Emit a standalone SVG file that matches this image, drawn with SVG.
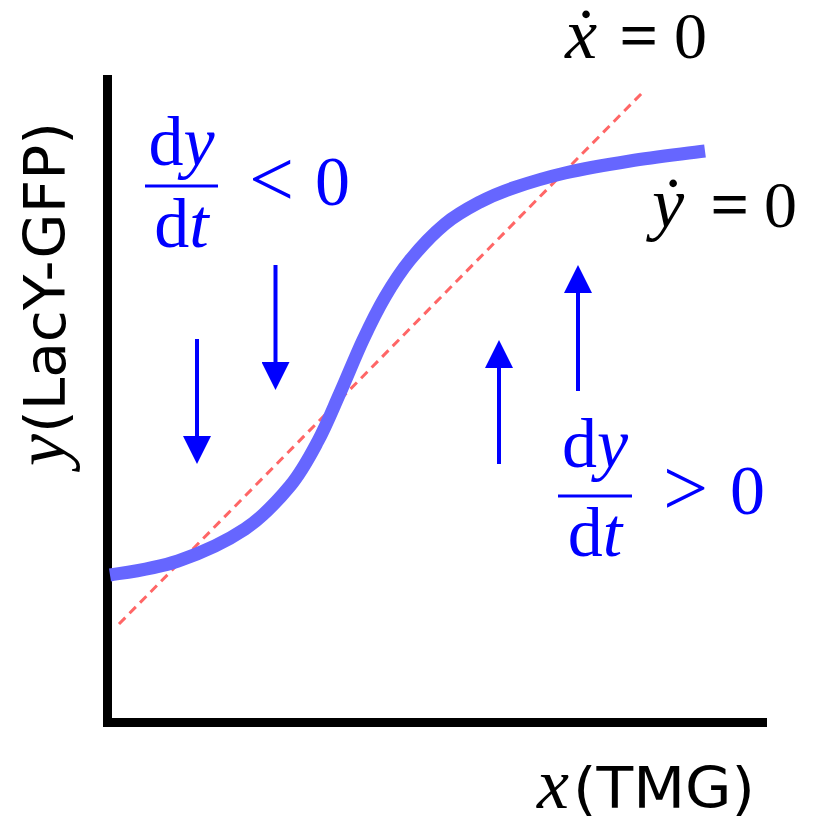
<svg xmlns="http://www.w3.org/2000/svg" width="816" height="817" viewBox="0 0 816 817">
<style>
.axis{stroke:#000;stroke-width:9;fill:none}
.curve{stroke:#6666ff;stroke-width:13;fill:none;stroke-linecap:butt}
.null{stroke:#ff6666;stroke-width:3;fill:none;stroke-dasharray:9 6}
.arr{stroke:#0000ff;stroke-width:4;fill:none;marker-end:url(#ah)}
.bar{stroke:#0000ff;stroke-width:3}
.m{font-family:"Liberation Serif","DejaVu Serif",serif;font-size:66px}
.f{font-family:"Liberation Serif","DejaVu Serif",serif;font-size:70px}
.rel{font-family:"Liberation Serif","DejaVu Serif",serif;font-size:80px}
.eq{stroke:#000;stroke-width:1.2}
.mi{font-family:"Liberation Serif","DejaVu Serif",serif;font-style:italic;font-size:72px}
.bl{fill:#0000ff}
.k{fill:#000}
.sans{font-family:"DejaVu Sans","Open Sans",sans-serif;font-size:57px;fill:#000}
</style>
<defs>
<marker id="ah" viewBox="0 0 28 28" refX="0" refY="14" markerWidth="28" markerHeight="28" markerUnits="userSpaceOnUse" orient="auto">
<path d="M0,0 L28,14 L0,28 z" fill="#0000ff"/>
</marker>
</defs>
<rect width="816" height="817" fill="#fff"/>
<g id="axes">
<line class="axis" x1="107.5" y1="75" x2="107.5" y2="727"/>
<line class="axis" x1="103" y1="722.5" x2="767" y2="722.5"/>
</g>
<g id="x-nullcline">
<line class="null" x1="119" y1="624" x2="642" y2="93"/>
</g>
<g id="y-nullcline">
<path class="curve" d="M110,575 C132.7,571.5 155.5,568.7 178,561 C200.5,553.3 226.3,541.5 245,529 C263.7,516.5 277.8,500.7 290,486 C302.2,471.3 309.7,456.5 318,441 C326.3,425.5 332.5,409.8 340,393 C347.5,376.2 355.5,356 363,340 C370.5,324 377.2,310.3 385,297 C392.8,283.7 400,272.2 410,260 C420,247.8 433.3,233.7 445,224 C456.7,214.3 468.7,208 480,202 C491.3,196 498.8,192.8 513,188 C527.2,183.2 545.5,177.5 565,173 C584.5,168.5 606.7,164.7 630,161 C653.3,157.3 680,154.3 705,151"/>
</g>
<g id="arrows">
<line class="arr" x1="197" y1="339" x2="197" y2="436"/>
<line class="arr" x1="275.5" y1="265" x2="275.5" y2="362"/>
<line class="arr" x1="499" y1="464" x2="499" y2="368"/>
<line class="arr" x1="578" y1="391" x2="578" y2="293"/>
</g>
<g id="label-xdot">
<text class="mi k" x="565" y="58">ẋ</text>
<text class="m k eq" x="620" y="58">=</text>
<text class="m k" x="674" y="58">0</text>
</g>
<g id="label-ydot">
<text class="mi k" x="652" y="227">ẏ</text>
<text class="m k eq" x="711" y="227">=</text>
<text class="m k" x="764" y="227">0</text>
</g>
<g id="label-dydt-neg">
<text class="f bl" x="181.5" y="165" text-anchor="middle">d<tspan font-style="italic">y</tspan></text>
<line class="bar" x1="145" y1="186" x2="218" y2="186"/>
<text class="f bl" x="181.5" y="247" text-anchor="middle">d<tspan font-style="italic">t</tspan></text>
<text class="rel bl" x="249" y="206">&lt;</text>
<text class="f bl" x="315" y="205">0</text>
</g>
<g id="label-dydt-pos">
<text class="f bl" x="595" y="467" text-anchor="middle">d<tspan font-style="italic">y</tspan></text>
<line class="bar" x1="558" y1="496" x2="632" y2="496"/>
<text class="f bl" x="595" y="556" text-anchor="middle">d<tspan font-style="italic">t</tspan></text>
<text class="rel bl" x="663" y="515">&gt;</text>
<text class="f bl" x="730" y="514">0</text>
</g>
<g id="label-x-axis">
<text class="mi k" x="537" y="808">x</text>
<text class="sans" x="573" y="808" textLength="182" lengthAdjust="spacingAndGlyphs">(TMG)</text>
</g>
<g id="label-y-axis" transform="translate(65,466) rotate(-90)">
<text class="mi k" x="0" y="0">y</text>
<text class="sans" x="33" y="0" textLength="311" lengthAdjust="spacingAndGlyphs">(LacY-GFP)</text>
</g>
</svg>
